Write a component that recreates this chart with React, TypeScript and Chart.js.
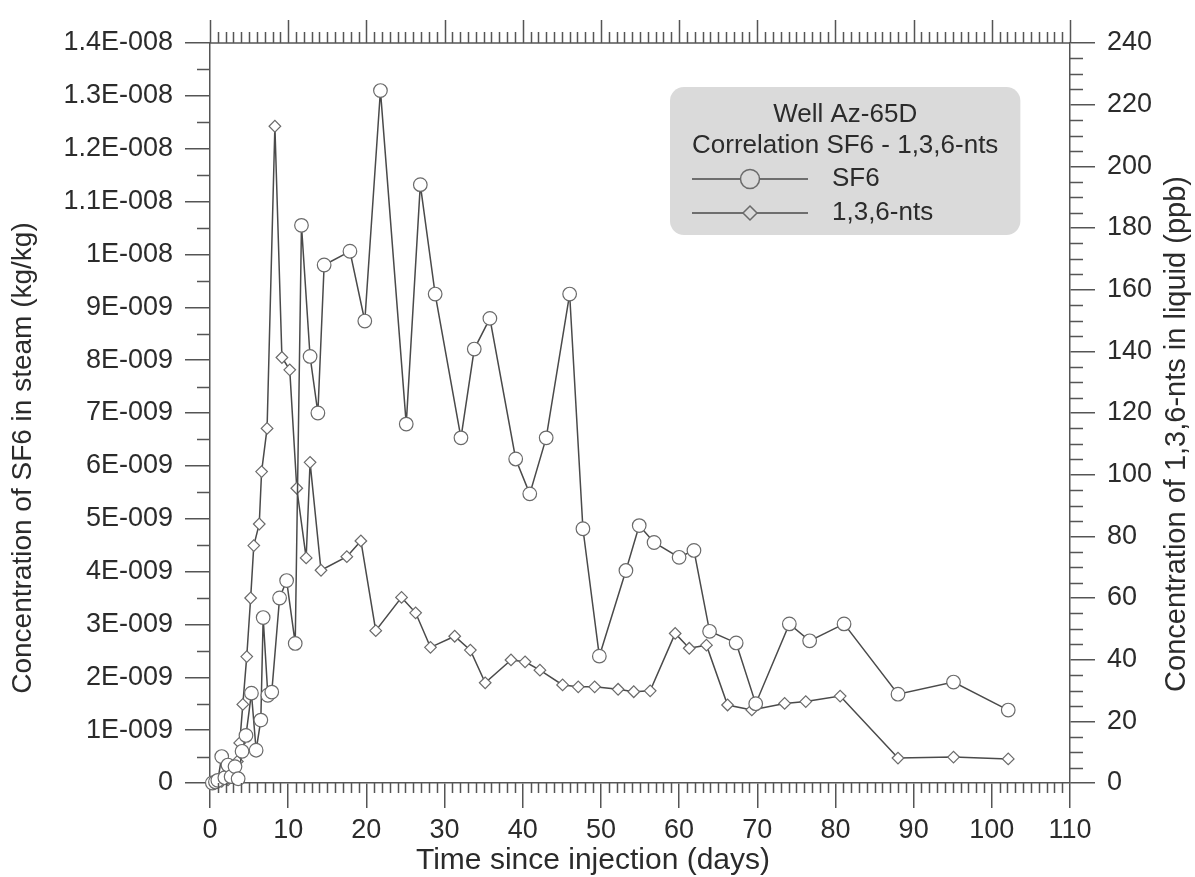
import React, { useEffect, useRef } from 'react';
import { Chart, registerables } from 'chart.js';

Chart.register(...registerables);

// ---------- data ----------
const sf6Days = [0.3, 0.7, 1.0, 1.5, 1.9, 2.3, 2.7, 3.2, 3.6, 4.1, 4.6, 5.3, 5.9, 6.5, 6.8, 7.4, 7.9, 8.9, 9.8, 10.9, 11.7, 12.8, 13.8, 14.6, 17.9, 19.8, 21.8, 25.1, 26.9, 28.8, 32.1, 33.8, 35.8, 39.1, 40.9, 43.0, 46.0, 47.7, 49.8, 53.2, 54.9, 56.8, 60.0, 61.9, 63.9, 67.3, 69.8, 74.1, 76.7, 81.1, 88.0, 95.1, 102.1];
const sf6Values = [0, 0.02e-9, 0.05e-9, 0.5e-9, 0.1e-9, 0.34e-9, 0.12e-9, 0.31e-9, 0.08e-9, 0.6e-9, 0.9e-9, 1.7e-9, 0.62e-9, 1.19e-9, 3.13e-9, 1.66e-9, 1.72e-9, 3.5e-9, 3.83e-9, 2.64e-9, 10.55e-9, 8.07e-9, 7.0e-9, 9.8e-9, 10.06e-9, 8.74e-9, 13.1e-9, 6.79e-9, 11.32e-9, 9.25e-9, 6.53e-9, 8.21e-9, 8.79e-9, 6.13e-9, 5.47e-9, 6.53e-9, 9.25e-9, 4.81e-9, 2.4e-9, 4.02e-9, 4.87e-9, 4.55e-9, 4.27e-9, 4.4e-9, 2.87e-9, 2.65e-9, 1.5e-9, 3.01e-9, 2.69e-9, 3.01e-9, 1.68e-9, 1.91e-9, 1.38e-9];

const ntsDays = [0.3, 0.7, 1.1, 1.5, 1.9, 2.3, 2.7, 3.1, 3.5, 3.8, 4.2, 4.7, 5.2, 5.6, 6.3, 6.6, 7.3, 8.3, 9.2, 10.2, 11.1, 12.3, 12.8, 14.2, 17.5, 19.3, 21.2, 24.5, 26.3, 28.2, 31.3, 33.3, 35.2, 38.5, 40.3, 42.2, 45.1, 47.1, 49.2, 52.2, 54.2, 56.3, 59.5, 61.3, 63.5, 66.2, 69.3, 73.5, 76.2, 80.6, 88.0, 95.1, 102.1];
const ntsValues = [0, 0, 1, 0.5, 2, 1, 3, 2, 7, 13, 25.5, 41, 60, 77, 84, 101, 115, 213, 138, 134, 95.6, 73, 104, 69, 73.4, 78.5, 49.4, 60.2, 55.2, 44, 47.6, 43.1, 32.5, 39.9, 39.3, 36.6, 31.8, 31.2, 31.2, 30.4, 29.6, 29.9, 48.5, 43.7, 44.7, 25.3, 23.7, 25.8, 26.4, 28.2, 8.1, 8.4, 7.8];

const xTicks = [0, 10, 20, 30, 40, 50, 60, 70, 80, 90, 100, 110];
const yLeftTicks = [0, 1e-9, 2e-9, 3e-9, 4e-9, 5e-9, 6e-9, 7e-9, 8e-9, 9e-9, 1e-8, 1.1e-8, 1.2e-8, 1.3e-8, 1.4e-8];
const yRightTicks = [0, 20, 40, 60, 80, 100, 120, 140, 160, 180, 200, 220, 240];

const xTitle = 'Time since injection (days)';
const yLeftTitle = 'Concentration of SF6 in steam (kg/kg)';
const yRightTitle = 'Concentration of 1,3,6-nts in liquid (ppb)';
const legendTitle = ['Well Az-65D', 'Correlation SF6 - 1,3,6-nts'];
const seriesNames = ['SF6', '1,3,6-nts'];

// ---------- style ----------
const FONT = "'Liberation Sans', Arial, sans-serif";
const FS = 27;
const TEXT = '#2b2b2b';
const AXIS = '#555555';
const LINE = '#4a4a4a';
const MARK = '#6a6a6a';

function fmtSci(v: number): string {
  if (v === 0) return '0';
  const n = Math.round(v / 1e-9);
  if (n < 10) return `${n}E-009`;
  return `${n / 10}E-008`;
}

const extrasPlugin = {
  id: 'extras',
  afterDraw(chart: any) {
    const { ctx, chartArea: a, scales } = chart;
    const xs = scales.x, ys = scales.y, y1 = scales.y1;
    ctx.save();
    ctx.strokeStyle = AXIS;
    ctx.lineWidth = 1.5;
    // top axis line
    ctx.beginPath();
    ctx.moveTo(a.left, a.top);
    ctx.lineTo(a.right, a.top);
    ctx.stroke();
    // top & bottom ticks, every day
    ctx.beginPath();
    for (let d = 0; d <= 110; d++) {
      const px = Math.round(xs.getPixelForValue(d)) + 0.5;
      const major = d % 10 === 0;
      ctx.moveTo(px, a.top);
      ctx.lineTo(px, a.top - (major ? 23 : 11));
      if (!major) {
        ctx.moveTo(px, a.bottom);
        ctx.lineTo(px, a.bottom + 10);
      }
    }
    // left minor ticks
    for (let i = 0; i < 14; i++) {
      const py = Math.round(ys.getPixelForValue((i + 0.5) * 1e-9)) + 0.5;
      ctx.moveTo(a.left, py);
      ctx.lineTo(a.left - 13, py);
    }
    // right minor ticks
    for (let v = 5; v < 240; v += 5) {
      if (v % 20 === 0) continue;
      const py = Math.round(y1.getPixelForValue(v)) + 0.5;
      ctx.moveTo(a.right, py);
      ctx.lineTo(a.right + 13, py);
    }
    ctx.stroke();

    // axis titles
    ctx.fillStyle = TEXT;
    ctx.textAlign = 'center';
    ctx.textBaseline = 'middle';
    ctx.font = `30px ${FONT}`;
    ctx.fillText(xTitle, 593, 861);
    ctx.save();
    ctx.font = `28px ${FONT}`;
    ctx.translate(23, 458);
    ctx.rotate(-Math.PI / 2);
    ctx.fillText(yLeftTitle, 0, 0);
    ctx.restore();
    ctx.save();
    ctx.font = `29px ${FONT}`;
    ctx.translate(1177, 434);
    ctx.rotate(-Math.PI / 2);
    ctx.fillText(yRightTitle, 0, 0);
    ctx.restore();

    // legend box
    ctx.font = `26px ${FONT}`;
    const bx = 670, by = 87, bh = 148;
    const tw = Math.max(ctx.measureText(legendTitle[0]).width, ctx.measureText(legendTitle[1]).width);
    const bw = tw + 44;
    ctx.fillStyle = '#dadada';
    ctx.beginPath();
    (ctx as any).roundRect(bx, by, bw, bh, 14);
    ctx.fill();
    ctx.fillStyle = TEXT;
    ctx.fillText(legendTitle[0], bx + bw / 2, 115);
    ctx.fillText(legendTitle[1], bx + bw / 2, 146);
    // samples
    const rows = [179, 213];
    ctx.strokeStyle = LINE;
    ctx.lineWidth = 1.5;
    rows.forEach((ry, i) => {
      ctx.beginPath();
      ctx.moveTo(bx + 22, ry);
      ctx.lineTo(bx + 138, ry);
      ctx.stroke();
      const mx = bx + 80;
      ctx.beginPath();
      if (i === 0) {
        ctx.arc(mx, ry, 9.5, 0, Math.PI * 2);
      } else {
        ctx.moveTo(mx, ry - 7);
        ctx.lineTo(mx + 7, ry);
        ctx.lineTo(mx, ry + 7);
        ctx.lineTo(mx - 7, ry);
        ctx.closePath();
      }
      ctx.fillStyle = '#dadada';
      ctx.fill();
      ctx.strokeStyle = MARK;
      ctx.stroke();
      ctx.strokeStyle = LINE;
      ctx.fillStyle = TEXT;
      ctx.textAlign = 'left';
      ctx.fillText(seriesNames[i], bx + 162, ry);
    });
    ctx.restore();
  },
};

export default function App() {
  const ref = useRef<HTMLCanvasElement | null>(null);
  useEffect(() => {
    if (!ref.current) return;
    const font = { family: FONT, size: FS };
    const chart = new Chart(ref.current, {
      type: 'line',
      data: {
        datasets: [
          {
            label: seriesNames[0],
            data: sf6Days.map((d, i) => ({ x: d, y: sf6Values[i] })),
            yAxisID: 'y',
            borderColor: LINE,
            borderWidth: 1.5,
            pointStyle: 'circle',
            pointRadius: 6.8,
            pointBorderWidth: 1.2,
            pointBorderColor: MARK,
            pointBackgroundColor: '#ffffff',
            tension: 0,
            clip: false,
          } as any,
          {
            label: seriesNames[1],
            data: ntsDays.map((d, i) => ({ x: d, y: ntsValues[i] })),
            yAxisID: 'y1',
            borderColor: LINE,
            borderWidth: 1.5,
            pointStyle: 'rectRot',
            pointRadius: 5.8,
            pointBorderWidth: 1.2,
            pointBorderColor: MARK,
            pointBackgroundColor: '#ffffff',
            tension: 0,
            clip: false,
          } as any,
        ],
      },
      options: {
        responsive: false,
        animation: false,
        devicePixelRatio: 1,
        layout: { padding: { top: 43, left: 0, right: 0, bottom: 0 } },
        plugins: { legend: { display: false }, tooltip: { enabled: false } },
        scales: {
          x: {
            type: 'linear',
            position: 'bottom',
            min: 0,
            max: 110,
            afterBuildTicks: (s: any) => { s.ticks = xTicks.map((v) => ({ value: v })); },
            afterFit: (s: any) => { s.height = 94; },
            ticks: { font, color: TEXT, padding: 6, autoSkip: false, maxRotation: 0 },
            grid: { drawOnChartArea: false, drawTicks: true, tickLength: 25, color: AXIS, lineWidth: 1.5 },
            border: { display: true, color: AXIS, width: 1.5 },
            title: { display: false },
          } as any,
          y: {
            type: 'linear',
            position: 'left',
            min: 0,
            max: 1.4e-8,
            afterBuildTicks: (s: any) => { s.ticks = yLeftTicks.map((v) => ({ value: v })); },
            afterFit: (s: any) => { s.width = 210; },
            ticks: { font, color: TEXT, padding: 12, autoSkip: false, callback: (v: any) => fmtSci(Number(v)) },
            grid: { drawOnChartArea: false, drawTicks: true, tickLength: 25, color: AXIS, lineWidth: 1.5 },
            border: { display: true, color: AXIS, width: 1.5 },
            title: { display: false },
          } as any,
          y1: {
            type: 'linear',
            position: 'right',
            min: 0,
            max: 240,
            afterBuildTicks: (s: any) => { s.ticks = yRightTicks.map((v) => ({ value: v })); },
            afterFit: (s: any) => { s.width = 125; },
            ticks: { font, color: TEXT, padding: 12, autoSkip: false },
            grid: { drawOnChartArea: false, drawTicks: true, tickLength: 25, color: AXIS, lineWidth: 1.5 },
            border: { display: true, color: AXIS, width: 1.5 },
          } as any,
        },
      },
      plugins: [extrasPlugin],
    });
    return () => chart.destroy();
  }, []);
  return (
    <div style={{ position: 'fixed', left: 0, top: 0, width: 1195, height: 877, background: '#ffffff' }}>
      <canvas ref={ref} width={1195} height={877} style={{ display: 'block' }} />
    </div>
  );
}
